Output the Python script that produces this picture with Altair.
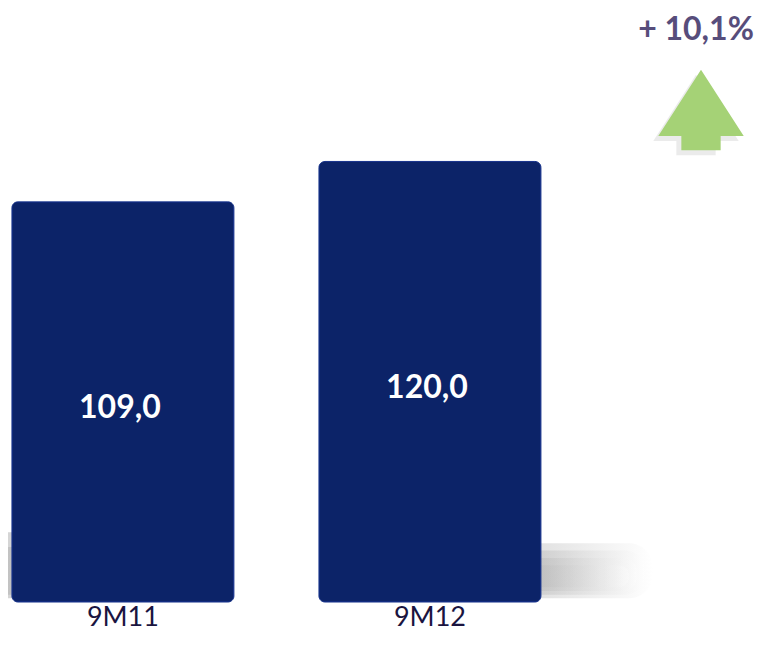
import altair as alt
import pandas as pd

# ---- data ----
periods = ["9M11", "9M12"]
values = [109.0, 120.0]

def fmt(v):
    return f"{v:.1f}".replace(".", ",")

growth = (values[1] - values[0]) / values[0] * 100
growth_label = "+ " + f"{growth:.1f}".replace(".", ",") + "%"

df = pd.DataFrame({"period": periods, "value": values, "label": [fmt(v) for v in values]})
gdf = pd.DataFrame({"txt": [growth_label]})

NAVY = "#0c2368"
xscale = alt.Scale(domain=periods, paddingInner=0.277, paddingOuter=0.355, align=0.018)
yscale = alt.Scale(domain=[0, 161.8])

X = alt.X("period:N", scale=xscale, sort=periods,
          axis=alt.Axis(title=None, domain=False, ticks=False, labelAngle=0,
                        labelFont="Lato", labelFontSize=27, labelColor="#1a1440",
                        labelPadding=2))

base = alt.Chart(df)


def shadow(period, offset, top, bottom, radius, op, stops):
    return base.transform_filter(alt.datum.period == period).mark_bar(
        xOffset=offset, cornerRadius=radius, opacity=op,
        fill=alt.LinearGradient(gradient="linear", x1=0, x2=1, y1=0, y2=0,
                                stops=[alt.GradientStop(color=c, offset=o) for o, c in stops])
    ).encode(x=X, y=alt.Y(datum=top, scale=yscale, axis=None), y2=alt.Y2(datum=bottom))


right_stops = [(0, "#808080"), (0.5, "#a0a0a0"), (1, "#ffffff")]
left_stops = [(0, "#ffffff"), (0.5, "#a0a0a0"), (1, "#808080")]

shadows = [
    shadow(periods[1], 112, 16, 1, 24, 0.3, right_stops),
    shadow(periods[1], 104, 14, 2, 20, 0.3, right_stops),
    shadow(periods[1], 96, 12, 3, 14, 0.3, right_stops),
    shadow(periods[1], 88, 10, 4, 10, 0.3, right_stops),
    shadow(periods[0], -112, 19, 1, 24, 0.45, left_stops),
    shadow(periods[0], -100, 15, 2, 16, 0.45, left_stops),
]

bars = base.mark_bar(color=NAVY, cornerRadius=6, stroke="#14308a", strokeWidth=1).encode(
    x=X, y=alt.Y("value:Q", scale=yscale, axis=None)
)

labels = base.transform_calculate(mid="datum.value / 2").mark_text(
    font="Lato", fontSize=32, fontWeight="bold", color="white", baseline="middle", dy=6, dx=-3
).encode(x=X, y=alt.Y("mid:Q", scale=yscale, axis=None), text="label:N")

arrow_path = "M0,-0.94 L1,0.61 L0.46,0.61 L0.46,0.94 L-0.46,0.94 L-0.46,0.61 L-1,0.61 Z"
g = alt.Chart(gdf)
arrow_shadow = g.mark_point(shape=arrow_path, filled=True, color="#7a7a7a", opacity=0.15,
                            size=7300, strokeWidth=0).encode(x=alt.value(688), y=alt.value(107))
arrow = g.mark_point(shape=arrow_path, filled=True, color="#a5d276", opacity=1,
                     size=7300, strokeWidth=0).encode(x=alt.value(693), y=alt.value(102))
gtext = g.mark_text(font="Lato", fontSize=32, fontWeight="bold", color="#574d7b",
                    baseline="middle", align="center").encode(
    x=alt.value(688), y=alt.value(22), text="txt:N")

chart = alt.layer(*shadows, bars, labels, arrow_shadow, arrow, gtext).properties(
    width=747, height=594,
    autosize=alt.AutoSizeParams(type="none"),
    padding={"left": 0, "top": 0, "right": 0, "bottom": 36},
).configure_view(stroke=None)

chart.save("out.html", embed_options={"renderer": "svg", "actions": False})
